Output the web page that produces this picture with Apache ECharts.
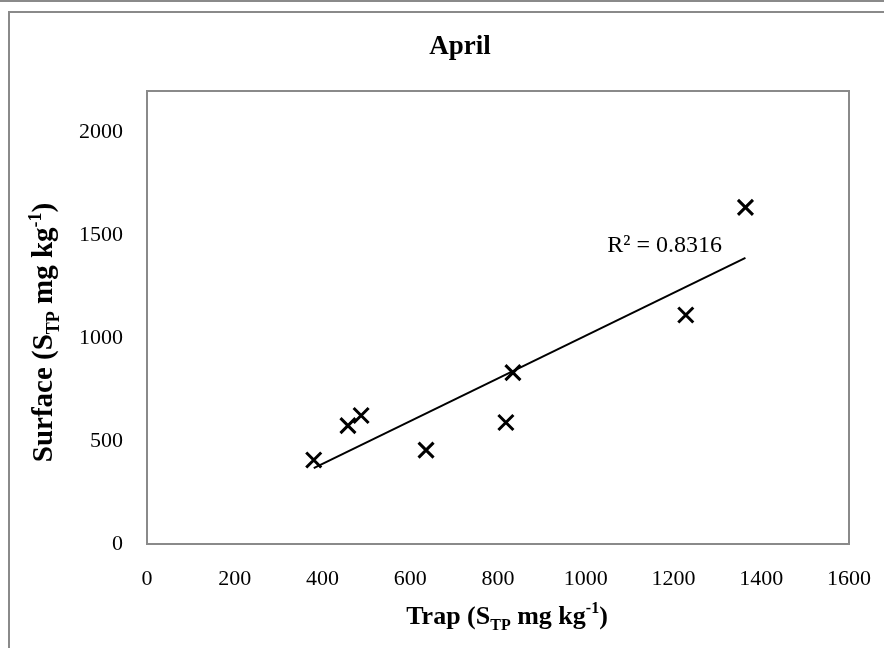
<!DOCTYPE html>
<html>
<head>
<meta charset="utf-8">
<script src="https://cdn.jsdelivr.net/npm/echarts@6/dist/echarts.min.js"></script>
<style>
  html, body { margin: 0; padding: 0; background: #fff; }
  #chart { width: 884px; height: 648px; }
</style>
</head>
<body>
<div id="chart"></div>
<script>
// Phosphorus in trap vs surface sediment, April
const trapValues    = [380, 458, 488, 636, 818, 834, 1228, 1364];
const surfaceValues = [408, 575, 624, 456, 590, 832, 1112, 1635];
const xTicks = [0, 200, 400, 600, 800, 1000, 1200, 1400, 1600];
const yTicks = [0, 500, 1000, 1500, 2000];
const rSquaredText = 'R\u00B2 = 0.8316';
const chartTitle = 'April';

// least-squares fit for the trend line
function linearFit(xs, ys) {
  const n = xs.length;
  const mx = xs.reduce((a, b) => a + b, 0) / n;
  const my = ys.reduce((a, b) => a + b, 0) / n;
  let sxy = 0, sxx = 0;
  for (let i = 0; i < n; i++) {
    sxy += (xs[i] - mx) * (ys[i] - my);
    sxx += (xs[i] - mx) * (xs[i] - mx);
  }
  const slope = sxy / sxx;
  return { slope, intercept: my - slope * mx };
}
const fit = linearFit(trapValues, surfaceValues);
const xLo = Math.min(...trapValues), xHi = Math.max(...trapValues);
const trendPoints = [[xLo, fit.intercept + fit.slope * xLo], [xHi, fit.intercept + fit.slope * xHi]];
const points = trapValues.map((x, i) => [x, surfaceValues[i]]);

const serif = "'Liberation Serif', 'Times New Roman', serif";
function nameRich(size) {
  const small = Math.round(size * 0.62);
  return {
    b:   { fontFamily: serif, fontWeight: 'bold', fontSize: size, color: '#000', lineHeight: Math.round(size * 1.25) },
    sub: { fontFamily: serif, fontWeight: 'bold', fontSize: small, color: '#000', lineHeight: small, verticalAlign: 'bottom' },
    sup: { fontFamily: serif, fontWeight: 'bold', fontSize: small, color: '#000', lineHeight: small, verticalAlign: 'top' }
  };
}
const plainNumber = v => String(v);

const chart = echarts.init(document.getElementById('chart'), null, { renderer: 'canvas' });
chart.setOption({
  animation: false,
  backgroundColor: '#fff',
  title: {
    text: chartTitle,
    left: 455,
    top: 29,
    textAlign: 'center',
    textStyle: { fontFamily: serif, fontWeight: 'bold', fontSize: 27, color: '#000' }
  },
  graphic: [
    { type: 'rect', silent: true, shape: { x: 0, y: 0, width: 900, height: 2 }, style: { fill: '#8a8a8a' } },
    { type: 'rect', silent: true, shape: { x: 9, y: 12, width: 900, height: 700 }, style: { fill: 'none', stroke: '#8a8a8a', lineWidth: 2 } }
  ],
  grid: {
    left: 147, top: 91, width: 702, height: 453,
    show: true, borderColor: '#8a8a8a', borderWidth: 2, backgroundColor: 'transparent'
  },
  xAxis: {
    type: 'value',
    min: xTicks[0], max: xTicks[xTicks.length - 1], interval: xTicks[1] - xTicks[0],
    splitLine: { show: false }, axisTick: { show: false }, axisLine: { show: false },
    axisLabel: { margin: 24, fontFamily: serif, fontSize: 22, color: '#000', formatter: plainNumber },
    name: '{b|Trap (S}{sub|TP}{b| mg kg}{sup|-1}{b|)}',
    nameLocation: 'middle', nameGap: 57,
    nameTextStyle: { rich: nameRich(26), padding: [0, 0, 0, 18] }
  },
  yAxis: {
    type: 'value',
    min: yTicks[0], max: 2200, interval: yTicks[1] - yTicks[0],
    splitLine: { show: false }, axisTick: { show: false }, axisLine: { show: false },
    axisLabel: { margin: 24, fontFamily: serif, fontSize: 22, color: '#000', showMaxLabel: false, formatter: plainNumber },
    name: '{b|Surface (S}{sub|TP}{b| mg kg}{sup|-1}{b|)}',
    nameLocation: 'middle', nameGap: 84, nameRotate: 90,
    nameTextStyle: { rich: nameRich(29), padding: [0, 30, 0, 0] }
  },
  series: [
    {
      type: 'line',
      data: trendPoints,
      showSymbol: false,
      lineStyle: { color: '#000', width: 2, opacity: 1 },
      silent: true,
      z: 2
    },
    {
      type: 'scatter',
      data: points,
      symbol: 'path://M0,0 L10,10 M10,0 L0,10',
      symbolSize: 15,
      itemStyle: { color: 'none', borderColor: '#000', borderWidth: 3, opacity: 1 },
      silent: true,
      z: 3
    },
    {
      type: 'scatter',
      data: [trendPoints[1]],
      symbolSize: 1,
      itemStyle: { color: 'rgba(0,0,0,0)', opacity: 1 },
      label: {
        show: true, formatter: rSquaredText, position: 'left', distance: 23, offset: [0, -12],
        fontFamily: serif, fontSize: 24, color: '#000', opacity: 1
      },
      silent: true,
      z: 4
    }
  ]
});
</script>
</body>
</html>
